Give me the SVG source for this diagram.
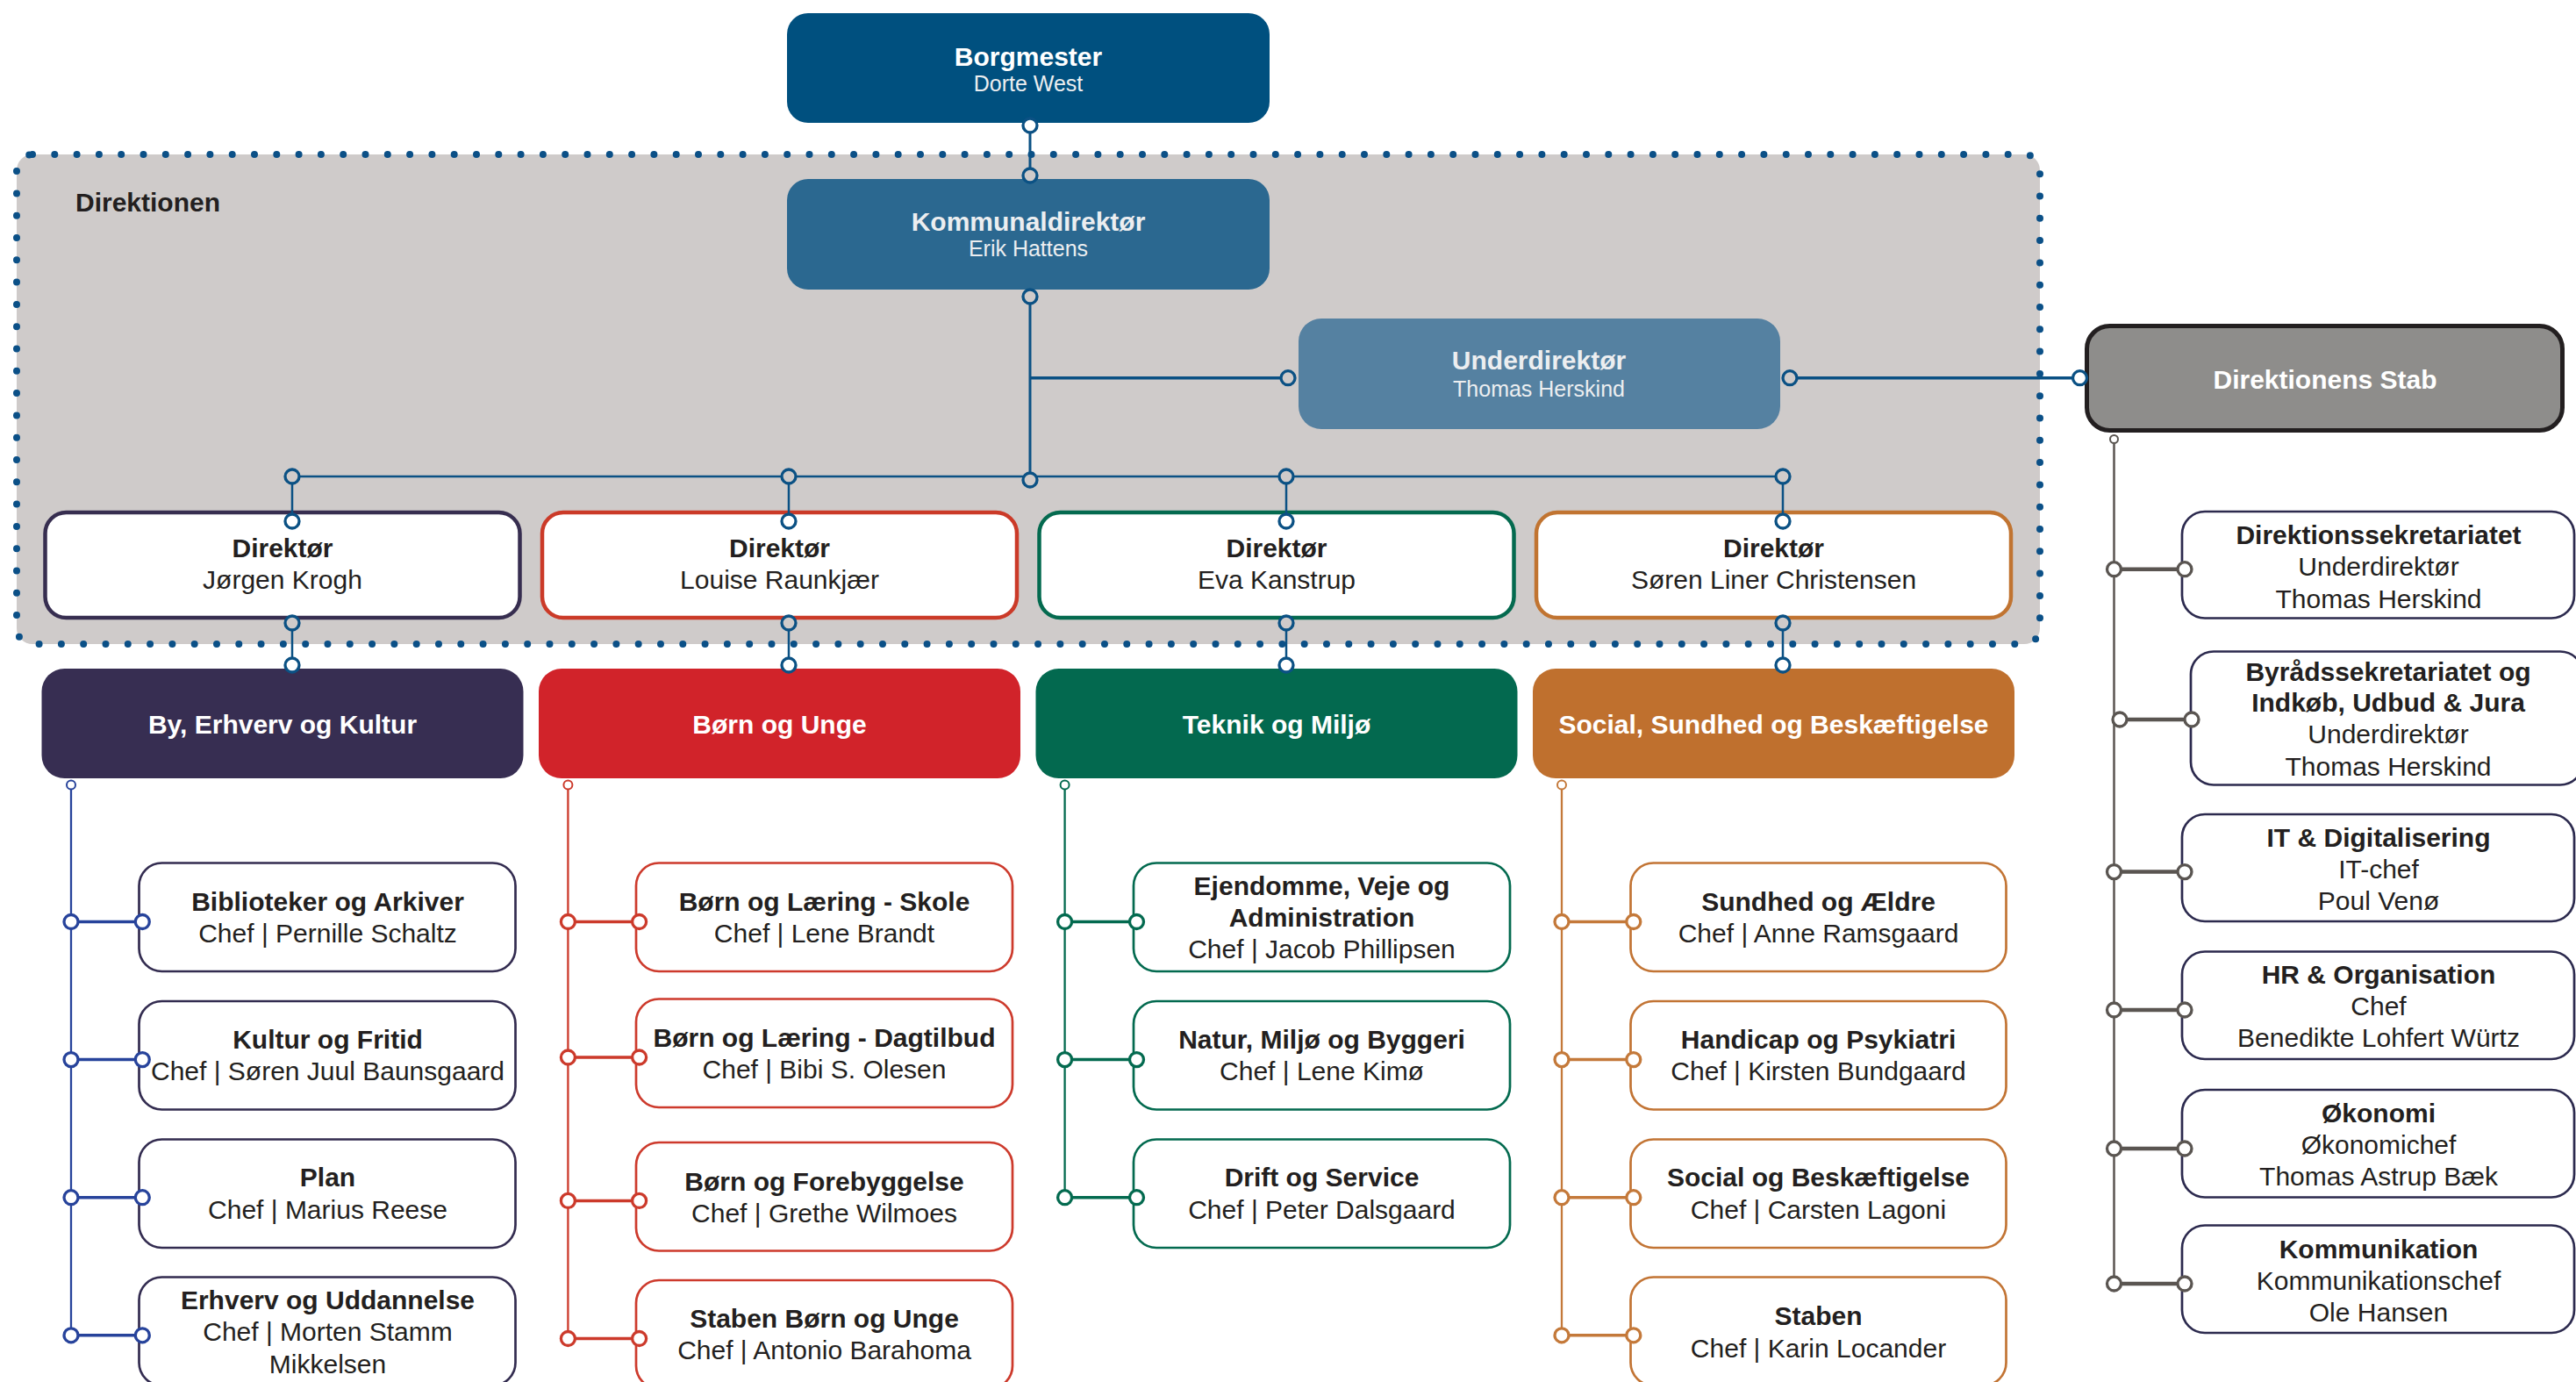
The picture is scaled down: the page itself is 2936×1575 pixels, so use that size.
<svg xmlns="http://www.w3.org/2000/svg" width="2936" height="1575" viewBox="0 0 2936 1575">
<style>
text{font-family:"Liberation Sans",Arial,Helvetica,sans-serif;font-size:30px;text-anchor:middle;fill:#231f20}
.b{font-weight:bold}
.w{fill:#fff}
.lt{fill:#eceef0}
.s{font-size:25px}
.ln{fill:none;stroke-linecap:butt}
.blue{stroke:#0b5184}
.c1{stroke:#27439b}.c2{stroke:#cc3a2b}.c3{stroke:#036a4f}.c4{stroke:#c4793a}.cg{stroke:#5a5551}
.port{stroke-width:3.3}
.sub{fill:#fff;stroke-width:2.7}
.dir{fill:#fff;stroke-width:4.5}
.dept{stroke:none}
</style>
<rect width="2936" height="1575" fill="#fff"/>

<g id="direktionen">
<rect x="19" y="176" width="2306" height="558" rx="18" fill="#cfcbca"/>
<rect x="19" y="176" width="2306" height="558" rx="18" fill="none" stroke="#0b5087" stroke-width="8" stroke-dasharray="0 25.3" stroke-linecap="round"/>
<text x="86" y="241" class="b" style="text-anchor:start">Direktionen</text>
</g>

<g id="borgmester">
<rect x="897" y="15" width="550" height="125" rx="24" fill="#00507f"/>
<text x="1172" y="75" class="b w">Borgmester</text>
<text x="1172" y="104" class="s lt">Dorte West</text>
</g>

<g id="kommunaldirektor">
<rect x="897" y="204" width="550" height="126" rx="24" fill="#2b6890"/>
<text x="1172" y="263" class="b lt">Kommunaldirektør</text>
<text x="1172" y="292" class="s lt">Erik Hattens</text>
</g>

<g id="underdirektor">
<rect x="1480" y="363" width="549" height="126" rx="26" fill="#5581a1"/>
<text x="1754" y="421" class="b lt">Underdirektør</text>
<text x="1754" y="452" class="s lt">Thomas Herskind</text>
</g>

<g id="direktionens-stab">
<rect x="2378.5" y="371.5" width="542" height="119" rx="26" fill="#8e8d8b" stroke="#231f20" stroke-width="5"/>
<text x="2650" y="443" class="b w">Direktionens Stab</text>
</g>

<g id="direktor-1"><rect x="51.5" y="584" width="541" height="120" rx="24" class="dir" stroke="#372e50"/><text x="322" y="635" class="b">Direktør</text><text x="322" y="671">Jørgen Krogh</text></g>
<g id="direktor-2"><rect x="618" y="584" width="541" height="120" rx="24" class="dir" stroke="#cb3a28"/><text x="888.5" y="635" class="b">Direktør</text><text x="888.5" y="671">Louise Raunkjær</text></g>
<g id="direktor-3"><rect x="1184.5" y="584" width="541" height="120" rx="24" class="dir" stroke="#046a4f"/><text x="1455" y="635" class="b">Direktør</text><text x="1455" y="671">Eva Kanstrup</text></g>
<g id="direktor-4"><rect x="1751" y="584" width="541" height="120" rx="24" class="dir" stroke="#c17431"/><text x="2021.5" y="635" class="b">Direktør</text><text x="2021.5" y="671">Søren Liner Christensen</text></g>

<g id="dept-1"><rect x="47.5" y="762" width="549" height="125" rx="26" fill="#372e52"/><text x="322" y="836" class="b w">By, Erhverv og Kultur</text></g>
<g id="dept-2"><rect x="614" y="762" width="549" height="125" rx="26" fill="#d1232a"/><text x="888.5" y="836" class="b w">Børn og Unge</text></g>
<g id="dept-3"><rect x="1180.5" y="762" width="549" height="125" rx="26" fill="#03694f"/><text x="1455" y="836" class="b w">Teknik og Miljø</text></g>
<g id="dept-4"><rect x="1747" y="762" width="549" height="125" rx="26" fill="#bf702e"/><text x="2021.5" y="836" class="b w">Social, Sundhed og Beskæftigelse</text></g>

<!-- column 1 -->
<g id="c1-1"><rect x="158.5" y="983.5" width="429" height="123.5" rx="26" class="sub" stroke="#332c50"/><text x="373.5" y="1038" class="b">Biblioteker og Arkiver</text><text x="373.5" y="1074">Chef | Pernille Schaltz</text></g>
<g id="c1-2"><rect x="158.5" y="1141" width="429" height="123.5" rx="26" class="sub" stroke="#332c50"/><text x="373.5" y="1195" class="b">Kultur og Fritid</text><text x="373.5" y="1231">Chef | Søren Juul Baunsgaard</text></g>
<g id="c1-3"><rect x="158.5" y="1298.5" width="429" height="123.5" rx="26" class="sub" stroke="#332c50"/><text x="373.5" y="1352" class="b">Plan</text><text x="373.5" y="1388.5">Chef | Marius Reese</text></g>
<g id="c1-4"><rect x="158.5" y="1455.5" width="429" height="123.5" rx="26" class="sub" stroke="#332c50"/><text x="373.5" y="1491.5" class="b">Erhverv og Uddannelse</text><text x="373.5" y="1528">Chef | Morten Stamm</text><text x="373.5" y="1565">Mikkelsen</text></g>

<!-- column 2 -->
<g id="c2-1"><rect x="725" y="983.5" width="429" height="123.5" rx="26" class="sub" stroke="#cd3a2c"/><text x="939.5" y="1038" class="b">Børn og Læring - Skole</text><text x="939.5" y="1074">Chef | Lene Brandt</text></g>
<g id="c2-2"><rect x="725" y="1138.5" width="429" height="123.5" rx="26" class="sub" stroke="#cd3a2c"/><text x="939.5" y="1192.5" class="b">Børn og Læring - Dagtilbud</text><text x="939.5" y="1229">Chef | Bibi S. Olesen</text></g>
<g id="c2-3"><rect x="725" y="1302" width="429" height="123.5" rx="26" class="sub" stroke="#cd3a2c"/><text x="939.5" y="1356.5" class="b">Børn og Forebyggelse</text><text x="939.5" y="1392.5">Chef | Grethe Wilmoes</text></g>
<g id="c2-4"><rect x="725" y="1459" width="429" height="123.5" rx="26" class="sub" stroke="#cd3a2c"/><text x="939.5" y="1512.5" class="b">Staben Børn og Unge</text><text x="939.5" y="1549">Chef | Antonio Barahoma</text></g>

<!-- column 3 -->
<g id="c3-1"><rect x="1292" y="983.5" width="429" height="123.5" rx="26" class="sub" stroke="#036a4f"/><text x="1506.5" y="1019.5" class="b">Ejendomme, Veje og</text><text x="1506.5" y="1055.5" class="b">Administration</text><text x="1506.5" y="1092">Chef | Jacob Phillipsen</text></g>
<g id="c3-2"><rect x="1292" y="1141" width="429" height="123.5" rx="26" class="sub" stroke="#036a4f"/><text x="1506.5" y="1195" class="b">Natur, Miljø og Byggeri</text><text x="1506.5" y="1231">Chef | Lene Kimø</text></g>
<g id="c3-3"><rect x="1292" y="1298.5" width="429" height="123.5" rx="26" class="sub" stroke="#036a4f"/><text x="1506.5" y="1352" class="b">Drift og Service</text><text x="1506.5" y="1388.5">Chef | Peter Dalsgaard</text></g>

<!-- column 4 -->
<g id="c4-1"><rect x="1858.5" y="983.5" width="428" height="123.5" rx="26" class="sub" stroke="#c27434"/><text x="2072.5" y="1038" class="b">Sundhed og Ældre</text><text x="2072.5" y="1074">Chef | Anne Ramsgaard</text></g>
<g id="c4-2"><rect x="1858.5" y="1141" width="428" height="123.5" rx="26" class="sub" stroke="#c27434"/><text x="2072.5" y="1195" class="b">Handicap og Psykiatri</text><text x="2072.5" y="1231">Chef | Kirsten Bundgaard</text></g>
<g id="c4-3"><rect x="1858.5" y="1298.5" width="428" height="123.5" rx="26" class="sub" stroke="#c27434"/><text x="2072.5" y="1352" class="b">Social og Beskæftigelse</text><text x="2072.5" y="1388.5">Chef | Carsten Lagoni</text></g>
<g id="c4-4"><rect x="1858.5" y="1455.5" width="428" height="123.5" rx="26" class="sub" stroke="#c27434"/><text x="2072.5" y="1509.5" class="b">Staben</text><text x="2072.5" y="1547">Chef | Karin Locander</text></g>

<!-- staff -->
<g id="s-1"><rect x="2487" y="583" width="447" height="121.5" rx="26" class="sub" stroke="#2c2a4e" stroke-width="2.5"/><text x="2711" y="619.5" class="b">Direktionssekretariatet</text><text x="2711" y="656">Underdirektør</text><text x="2711" y="692.5">Thomas Herskind</text></g>
<g id="s-2"><rect x="2497" y="742.5" width="447" height="152" rx="26" class="sub" stroke="#2c2a4e" stroke-width="2.5"/><text x="2722" y="775.5" class="b">Byrådssekretariatet og</text><text x="2722" y="810.5" class="b">Indkøb, Udbud &amp; Jura</text><text x="2722" y="846.5">Underdirektør</text><text x="2722" y="883.5">Thomas Herskind</text></g>
<g id="s-3"><rect x="2487" y="928" width="447" height="122" rx="26" class="sub" stroke="#2c2a4e" stroke-width="2.5"/><text x="2711" y="964.5" class="b">IT &amp; Digitalisering</text><text x="2711" y="1000.5">IT-chef</text><text x="2711" y="1037">Poul Venø</text></g>
<g id="s-4"><rect x="2487" y="1084.5" width="447" height="122.5" rx="26" class="sub" stroke="#2c2a4e" stroke-width="2.5"/><text x="2711" y="1120.5" class="b">HR &amp; Organisation</text><text x="2711" y="1157">Chef</text><text x="2711" y="1193">Benedikte Lohfert Würtz</text></g>
<g id="s-5"><rect x="2487" y="1242" width="447" height="122.5" rx="26" class="sub" stroke="#2c2a4e" stroke-width="2.5"/><text x="2711" y="1278.5" class="b">Økonomi</text><text x="2711" y="1315">Økonomichef</text><text x="2711" y="1351">Thomas Astrup Bæk</text></g>
<g id="s-6"><rect x="2487" y="1396.5" width="447" height="122.5" rx="26" class="sub" stroke="#2c2a4e" stroke-width="2.5"/><text x="2711" y="1434" class="b">Kommunikation</text><text x="2711" y="1470">Kommunikationschef</text><text x="2711" y="1506">Ole Hansen</text></g>

<g id="connectors">
<!-- top blue -->
<g class="ln blue">
<path d="M1174 151V192" stroke-width="3"/>
<path d="M1174 346V539" stroke-width="3"/>
<path d="M1174 430.7H1460" stroke-width="3.5"/>
<path d="M2048 430.7H2362.5" stroke-width="3.5"/>
<path d="M333 543H2032" stroke-width="2.5"/>
<path d="M333 551V586M899 551V586M1466 551V586M2032 551V586" stroke-width="2.5"/>
<path d="M333 718V750M899 718V750M1466 718V750M2032 718V750" stroke-width="2.5"/>
</g>
<g class="blue port">
<circle cx="1174" cy="143" r="8" fill="#fff"/>
<circle cx="1174" cy="200" r="8" fill="#cfcbca"/>
<circle cx="1174" cy="338" r="8" fill="#cfcbca"/>
<circle cx="1468" cy="430.7" r="8" fill="#cfcbca"/>
<circle cx="2040" cy="430.7" r="8" fill="#cfcbca"/>
<circle cx="2370.5" cy="430.7" r="8" fill="#fff"/>
<circle cx="1174" cy="547" r="8" fill="#cfcbca"/>
<circle cx="333" cy="543" r="8" fill="#cfcbca"/><circle cx="899" cy="543" r="8" fill="#cfcbca"/><circle cx="1466" cy="543" r="8" fill="#cfcbca"/><circle cx="2032" cy="543" r="8" fill="#cfcbca"/>
<circle cx="333" cy="594" r="8" fill="#fff"/><circle cx="899" cy="594" r="8" fill="#fff"/><circle cx="1466" cy="594" r="8" fill="#fff"/><circle cx="2032" cy="594" r="8" fill="#fff"/>
<circle cx="333" cy="710" r="8" fill="#cfcbca"/><circle cx="899" cy="710" r="8" fill="#cfcbca"/><circle cx="1466" cy="710" r="8" fill="#cfcbca"/><circle cx="2032" cy="710" r="8" fill="#cfcbca"/>
<circle cx="333" cy="758" r="8" fill="#fff"/><circle cx="899" cy="758" r="8" fill="#fff"/><circle cx="1466" cy="758" r="8" fill="#fff"/><circle cx="2032" cy="758" r="8" fill="#fff"/>
</g>

<!-- column 1 -->
<g class="ln c1">
<path d="M81 899.5V1521.8" stroke-width="2.3"/>
<path d="M89 1050.5H154M89 1207.6H154M89 1364.7H154M89 1521.8H154" stroke-width="3.5"/>
</g>
<g class="c1" fill="#fff">
<circle cx="81" cy="894.4" r="5" stroke-width="2"/>
<g class="port"><circle cx="81" cy="1050.5" r="8"/><circle cx="162.3" cy="1050.5" r="8"/><circle cx="81" cy="1207.6" r="8"/><circle cx="162.3" cy="1207.6" r="8"/><circle cx="81" cy="1364.7" r="8"/><circle cx="162.3" cy="1364.7" r="8"/><circle cx="81" cy="1521.8" r="8"/><circle cx="162.3" cy="1521.8" r="8"/></g>
</g>

<!-- column 2 -->
<g class="ln c2">
<path d="M647.4 899.5V1525.5" stroke-width="2.3"/>
<path d="M655 1050.5H720.5M655 1205H720.5M655 1368.4H720.5M655 1525.5H720.5" stroke-width="3.5"/>
</g>
<g class="c2" fill="#fff">
<circle cx="647.4" cy="894.4" r="5" stroke-width="2"/>
<g class="port"><circle cx="647.4" cy="1050.5" r="8"/><circle cx="728.6" cy="1050.5" r="8"/><circle cx="647.4" cy="1205" r="8"/><circle cx="728.6" cy="1205" r="8"/><circle cx="647.4" cy="1368.4" r="8"/><circle cx="728.6" cy="1368.4" r="8"/><circle cx="647.4" cy="1525.5" r="8"/><circle cx="728.6" cy="1525.5" r="8"/></g>
</g>

<!-- column 3 -->
<g class="ln c3">
<path d="M1213.6 899.5V1364.7" stroke-width="2.3"/>
<path d="M1221 1050.5H1287.5M1221 1207.6H1287.5M1221 1364.7H1287.5" stroke-width="3.5"/>
</g>
<g class="c3" fill="#fff">
<circle cx="1213.6" cy="894.4" r="5" stroke-width="2"/>
<g class="port"><circle cx="1213.6" cy="1050.5" r="8"/><circle cx="1295.5" cy="1050.5" r="8"/><circle cx="1213.6" cy="1207.6" r="8"/><circle cx="1295.5" cy="1207.6" r="8"/><circle cx="1213.6" cy="1364.7" r="8"/><circle cx="1295.5" cy="1364.7" r="8"/></g>
</g>

<!-- column 4 -->
<g class="ln c4">
<path d="M1780 899.5V1521.8" stroke-width="2.3"/>
<path d="M1788 1050.5H1854M1788 1207.6H1854M1788 1364.7H1854M1788 1521.8H1854" stroke-width="3.5"/>
</g>
<g class="c4" fill="#fff">
<circle cx="1780" cy="894.4" r="5" stroke-width="2"/>
<g class="port"><circle cx="1780" cy="1050.5" r="8"/><circle cx="1861.8" cy="1050.5" r="8"/><circle cx="1780" cy="1207.6" r="8"/><circle cx="1861.8" cy="1207.6" r="8"/><circle cx="1780" cy="1364.7" r="8"/><circle cx="1861.8" cy="1364.7" r="8"/><circle cx="1780" cy="1521.8" r="8"/><circle cx="1861.8" cy="1521.8" r="8"/></g>
</g>

<!-- staff -->
<g class="ln cg">
<path d="M2409.5 505.5V1463" stroke-width="2.5"/>
<path d="M2417.5 648.7H2482M2424 820H2490M2417.5 993.6H2482M2417.5 1151H2482M2417.5 1309H2482M2417.5 1463H2482" stroke-width="4.5"/>
</g>
<g class="cg" fill="#fff">
<circle cx="2409.5" cy="500.5" r="4.5" stroke-width="2"/>
<g class="port" stroke-width="3.5"><circle cx="2409.5" cy="648.7" r="8"/><circle cx="2490" cy="648.7" r="8"/><circle cx="2416" cy="820" r="8"/><circle cx="2498" cy="820" r="8"/><circle cx="2409.5" cy="993.6" r="8"/><circle cx="2490" cy="993.6" r="8"/><circle cx="2409.5" cy="1151" r="8"/><circle cx="2490" cy="1151" r="8"/><circle cx="2409.5" cy="1309" r="8"/><circle cx="2490" cy="1309" r="8"/><circle cx="2409.5" cy="1463" r="8"/><circle cx="2490" cy="1463" r="8"/></g>
</g>
</g>
</svg>
